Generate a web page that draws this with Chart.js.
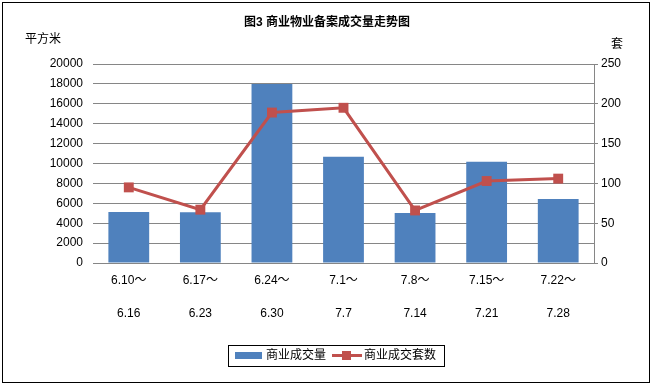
<!DOCTYPE html>
<html>
<head>
<meta charset="utf-8">
<script src="https://cdn.jsdelivr.net/npm/chart.js@4"></script>
<style>
  html, body { margin: 0; padding: 0; background: #fff; }
  #wrap { width: 654px; height: 388px; }
</style>
</head>
<body>
<div id="wrap"><canvas id="chart" width="654" height="388"></canvas></div>
<script>
// chart values
var weekStart = ['6.10～', '6.17～', '6.24～', '7.1～', '7.8～', '7.15～', '7.22～'];
var weekEnd = ['6.16', '6.23', '6.30', '7.7', '7.14', '7.21', '7.28'];
var area = [5120, 5100, 18000, 10680, 5020, 10170, 6430];      // 平方米
var units = [95, 67, 189, 195, 66, 103, 106];                  // 套
var leftTicks = [0, 20000, 2000];
var rightTicks = [0, 250, 50];

var FONT = "'Liberation Sans', 'Noto Sans CJK SC', sans-serif";
var BLUE = '#4F81BD';
var RED = '#C0504D';
var GRID = '#868686';

var labels = [];
for (let i = 0; i < weekStart.length; i++) {
    labels.push([weekStart[i], weekEnd[i]]);
}

// texts, outer frame and legend box
var decor = {
    id: 'decor',
    afterDraw: function (chart) {
        var ctx = chart.ctx;
        ctx.save();
        ctx.strokeStyle = '#000';
        ctx.lineWidth = 1;
        ctx.strokeRect(2.5, 2.5, 647, 380);

        ctx.fillStyle = '#000';
        ctx.textBaseline = 'middle';
        ctx.textAlign = 'center';
        ctx.font = 'bold 12px ' + FONT;
        ctx.fillText('图3 商业物业备案成交量走势图', 327, 23);
        ctx.font = '12px ' + FONT;
        ctx.fillText('平方米', 43, 40);
        ctx.fillText('套', 617, 45);

        // legend
        ctx.strokeRect(228.5, 345.5, 216, 21);
        ctx.fillStyle = BLUE;
        ctx.fillRect(235, 352, 27, 7);
        ctx.fillStyle = '#000';
        ctx.textAlign = 'left';
        ctx.fillText(chart.data.datasets[1].label, 266, 356);
        ctx.strokeStyle = RED;
        ctx.lineWidth = 3;
        ctx.beginPath();
        ctx.moveTo(332, 355.5);
        ctx.lineTo(362, 355.5);
        ctx.stroke();
        ctx.fillStyle = RED;
        ctx.fillRect(342, 351, 9, 9);
        ctx.fillStyle = '#000';
        ctx.fillText(chart.data.datasets[0].label, 364, 356);
        ctx.restore();
    }
};

var ctx = document.getElementById('chart').getContext('2d');
var chart = new Chart(ctx, {
    type: 'bar',
    data: {
        labels: labels,
        datasets: [{
            type: 'line',
            label: '商业成交套数',
            data: units,
            yAxisID: 'y1',
            borderColor: RED,
            backgroundColor: RED,
            borderWidth: 3,
            pointStyle: 'rect',
            pointRadius: 7,
            pointBorderWidth: 0,
            tension: 0,
            order: 0
        }, {
            label: '商业成交量',
            data: area,
            yAxisID: 'y',
            backgroundColor: BLUE,
            barPercentage: 0.57,
            categoryPercentage: 1,
            order: 1
        }]
    },
    options: {
        responsive: false,
        animation: false,
        layout: { padding: { top: 64, left: 0, right: 0, bottom: 0 } },
        plugins: {
            legend: { display: false },
            title: { display: false },
            tooltip: { enabled: false }
        },
        scales: {
            x: {
                grid: { display: false },
                border: { display: false },
                ticks: {
                    color: '#000',
                    padding: -7,
                    maxRotation: 0,
                    autoSkip: false,
                    font: { family: FONT, size: 12, lineHeight: 2.75 }
                },
                afterFit: function (scale) { scale.height = 125; }
            },
            y: {
                position: 'left',
                min: leftTicks[0],
                max: leftTicks[1],
                ticks: {
                    stepSize: leftTicks[2],
                    color: '#000',
                    padding: 10,
                    font: { family: FONT, size: 12 },
                    callback: function (v) { return String(v); }
                },
                grid: { color: GRID, lineWidth: 1, drawTicks: false },
                border: { display: false },
                afterFit: function (scale) { scale.width = 93; }
            },
            y1: {
                position: 'right',
                min: rightTicks[0],
                max: rightTicks[1],
                ticks: {
                    stepSize: rightTicks[2],
                    color: '#000',
                    padding: 3,
                    font: { family: FONT, size: 12 }
                },
                grid: { drawOnChartArea: false, color: GRID, tickLength: 4 },
                border: { display: true, color: GRID },
                afterFit: function (scale) { scale.width = 60; }
            }
        }
    },
    plugins: [decor]
});
</script>
</body>
</html>
